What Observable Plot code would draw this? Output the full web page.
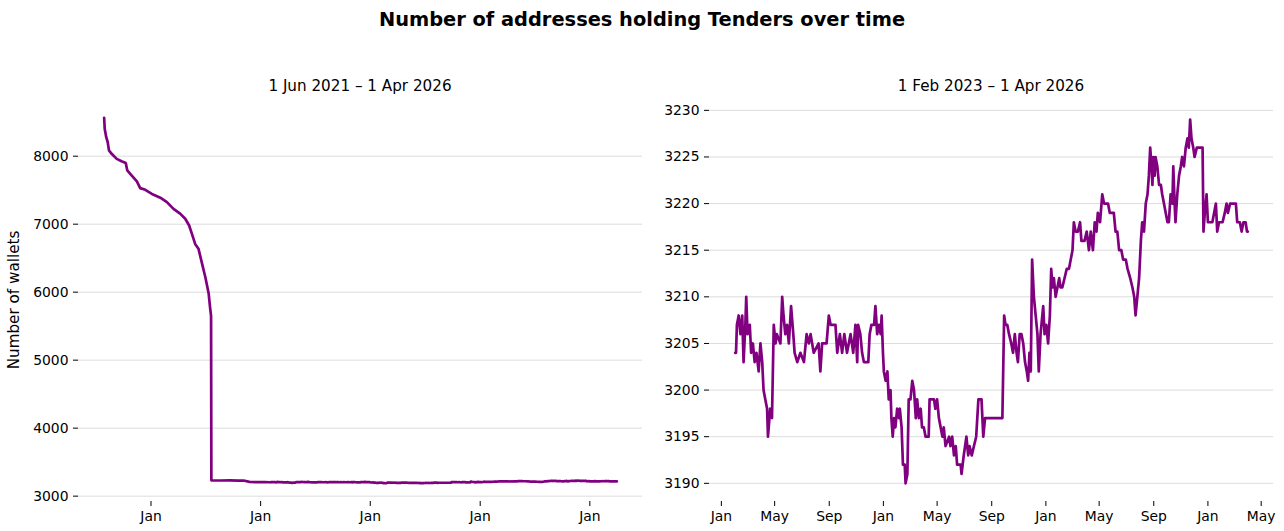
<!DOCTYPE html>
<html><head><meta charset="utf-8">
<script src="https://cdn.jsdelivr.net/npm/d3@7"></script>
<script src="https://cdn.jsdelivr.net/npm/@observablehq/plot@0.6"></script>
<style>
body{margin:0;background:#fff;font-family:"DejaVu Sans",sans-serif;}
#wrap{position:relative;width:1284px;height:531px;overflow:hidden;background:#fff;}
.t{position:absolute;white-space:nowrap;color:#000;line-height:1;}
#left,#right{position:absolute;top:60px;}
#left{left:0}
#right{left:650px}
</style></head><body>
<div id="wrap">
  <div id="left"></div>
  <div id="right"></div>
  <div class="t" id="title" style="left:0;width:1284px;text-align:center;top:10px;font-weight:bold;font-size:19.4px;"></div>
  <div class="t" id="subL" style="left:78px;width:564px;text-align:center;top:79px;font-size:15.2px;"></div>
  <div class="t" id="subR" style="left:709px;width:564px;text-align:center;top:79px;font-size:15.2px;"></div>
  <div class="t" id="ylab" style="left:15px;top:300px;font-size:15.2px;transform:translate(-50%,-50%) rotate(-90deg);"></div>
</div>
<script>
const chartTitle = "Number of addresses holding Tenders over time";
const panelTitles = ["1 Jun 2021 \u2013 1 Apr 2026", "1 Feb 2023 \u2013 1 Apr 2026"];
const yLabel = "Number of wallets";
const rightStart = "2023-02-01";
const leftYTicks = [3000, 4000, 5000, 6000, 7000, 8000];
const rightYTicks = [3190, 3195, 3200, 3205, 3210, 3215, 3220, 3225, 3230];

const dates = [
"2021-07-29","2021-07-31","2021-08-05","2021-08-10","2021-08-14","2021-08-23","2021-09-09","2021-09-25","2021-10-09","2021-10-14",
"2021-10-29","2021-11-15","2021-11-26","2021-12-13","2022-01-04","2022-02-01","2022-02-23","2022-03-17","2022-04-08","2022-04-25",
"2022-05-08","2022-05-17","2022-05-28","2022-06-08","2022-06-20","2022-07-01","2022-07-12","2022-07-17","2022-07-20","2022-07-21",
"2022-08-20","2022-09-20","2022-10-20","2022-11-05","2022-11-25","2022-12-20","2023-01-15",
"2023-02-01","2023-02-03","2023-02-05","2023-02-09","2023-02-13","2023-02-17","2023-02-20","2023-02-24","2023-02-26","2023-03-01",
"2023-03-06","2023-03-09","2023-03-13","2023-03-17","2023-03-21","2023-03-26","2023-03-30","2023-04-03","2023-04-06","2023-04-10",
"2023-04-14","2023-04-16","2023-04-21","2023-04-25","2023-04-29","2023-05-03","2023-05-06","2023-05-14","2023-05-18","2023-05-21",
"2023-05-25","2023-05-29","2023-06-02","2023-06-07","2023-06-12","2023-06-15","2023-06-21","2023-06-28","2023-07-06","2023-07-12",
"2023-07-17","2023-07-21","2023-07-28","2023-08-08","2023-08-12","2023-08-16","2023-08-26","2023-08-31","2023-09-04","2023-09-15",
"2023-09-19","2023-09-25","2023-09-30","2023-10-05","2023-10-11","2023-10-19","2023-10-25","2023-10-30","2023-11-03","2023-11-05",
"2023-11-10","2023-11-14","2023-11-18","2023-11-28","2023-12-01","2023-12-05","2023-12-11","2023-12-14","2023-12-18","2023-12-22",
"2023-12-26","2023-12-28","2023-12-31","2024-01-02","2024-01-06","2024-01-10","2024-01-13","2024-01-17","2024-01-19","2024-01-22",
"2024-01-25","2024-01-28","2024-02-01","2024-02-05","2024-02-07","2024-02-11","2024-02-14","2024-02-18","2024-02-20","2024-02-24",
"2024-02-27","2024-03-02","2024-03-06","2024-03-10","2024-03-14","2024-03-17","2024-03-21","2024-03-25","2024-03-28","2024-04-01",
"2024-04-05","2024-04-12","2024-04-14","2024-04-24","2024-04-27","2024-05-01","2024-05-05","2024-05-09","2024-05-13","2024-05-16",
"2024-05-20","2024-05-28","2024-05-31","2024-06-04","2024-06-08","2024-06-12","2024-06-15","2024-06-23","2024-06-25","2024-06-30",
"2024-07-06","2024-07-10","2024-07-13","2024-07-18","2024-07-23","2024-07-28","2024-08-02","2024-08-09","2024-08-13","2024-08-17",
"2024-08-22","2024-09-25","2024-09-29","2024-10-02","2024-10-06","2024-10-10","2024-10-15","2024-10-19","2024-10-23","2024-10-27",
"2024-10-30","2024-11-03","2024-11-07","2024-11-11","2024-11-15","2024-11-19","2024-11-22","2024-11-25","2024-11-28","2024-12-01",
"2024-12-05","2024-12-09","2024-12-13","2024-12-16","2024-12-20","2024-12-26","2024-12-29","2025-01-02","2025-01-06","2025-01-10",
"2025-01-13","2025-01-16","2025-01-19","2025-01-23","2025-01-27","2025-01-31","2025-02-03","2025-02-07","2025-02-12","2025-02-17",
"2025-02-22","2025-02-26","2025-03-02","2025-03-05","2025-03-09","2025-03-14","2025-03-19","2025-03-22","2025-03-29","2025-04-03",
"2025-04-08","2025-04-12","2025-04-17","2025-04-21","2025-04-25","2025-04-28","2025-05-03","2025-05-08","2025-05-12","2025-05-16",
"2025-05-21","2025-05-25","2025-05-31","2025-06-03","2025-06-07","2025-06-11","2025-06-15","2025-06-20","2025-06-24","2025-06-30",
"2025-07-04","2025-07-10","2025-07-15","2025-07-19","2025-07-22","2025-07-26","2025-07-30","2025-08-03","2025-08-06","2025-08-10",
"2025-08-14","2025-08-18","2025-08-21","2025-08-24","2025-08-27","2025-08-29","2025-08-31","2025-09-03","2025-09-05","2025-09-09",
"2025-09-13","2025-09-17","2025-09-20","2025-09-24","2025-09-28","2025-10-02","2025-10-05","2025-10-09","2025-10-13","2025-10-15",
"2025-10-18","2025-10-20","2025-10-24","2025-10-28","2025-11-01","2025-11-04","2025-11-08","2025-11-12","2025-11-16","2025-11-19",
"2025-11-22","2025-11-25","2025-11-29","2025-12-02","2025-12-07","2025-12-20","2025-12-22","2025-12-25","2025-12-29","2026-01-01",
"2026-01-06","2026-01-11","2026-01-19","2026-01-22","2026-01-26","2026-02-03","2026-02-08","2026-02-12","2026-02-15","2026-02-20",
"2026-03-05","2026-03-08","2026-03-14","2026-03-18","2026-03-22","2026-03-27","2026-03-30","2026-04-01"
];
const wallets = [
8565,8400,8280,8205,8085,8035,7960,7925,7900,7790,
7715,7630,7530,7505,7445,7390,7325,7225,7155,7080,
6980,6860,6710,6640,6420,6220,5980,5760,5650,3232,
3230,3231,3229,3230,3210,3206,3205,
3204,3204,3207,3208,3206,3208,3203,3207,3210,3206,
3207,3204,3205,3203,3204,3202,3205,3203,3200,3199,
3198,3195,3198,3197,3207,3205,3206,3205,3210,3208,
3206,3207,3205,3209,3206,3204,3203,3204,3203,3206,
3205,3206,3204,3205,3202,3205,3205,3208,3207,3207,
3204,3206,3204,3206,3204,3206,3204,3207,3203,3207,
3206,3204,3203,3203,3206,3207,3207,3209,3206,3207,
3206,3208,3204,3202,3201,3202,3199,3200,3197,3195,
3197,3196,3198,3197,3198,3196,3192,3192,3190,3191,
3199,3199,3201,3200,3197,3199,3197,3198,3196,3196,
3195,3195,3199,3199,3198,3199,3197,3196,3195,3196,
3194,3195,3194,3195,3193,3194,3192,3192,3191,3193,
3195,3193,3194,3193,3194,3195,3199,3199,3195,3197,
3197,3197,3208,3207,3207,3206,3205,3204,3206,3204,
3203,3206,3206,3205,3203,3202,3201,3204,3202,3214,
3210,3208,3206,3202,3206,3209,3206,3207,3205,3208,
3213,3211,3212,3210,3211,3212,3211,3211,3212,3213,
3213,3214,3215,3218,3217,3217,3218,3216,3216,3217,
3215,3217,3215,3218,3217,3219,3218,3221,3220,3220,
3220,3219,3219,3219,3217,3217,3215,3215,3214,3214,
3213,3212,3211,3210,3208,3210,3212,3216,3218,3217,
3220,3221,3223,3226,3224,3222,3225,3223,3225,3224,
3222,3222,3221,3220,3219,3218,3218,3221,3220,3224,
3220,3218,3221,3223,3224,3225,3224,3226,3227,3226,
3229,3227,3226,3225,3226,3226,3217,3219,3221,3218,
3218,3218,3220,3217,3218,3218,3219,3220,3219,3220,
3220,3218,3218,3217,3218,3218,3217,3217
];

document.getElementById("title").textContent = chartTitle;
document.getElementById("subL").textContent = panelTitles[0];
document.getElementById("subR").textContent = panelTitles[1];
document.getElementById("ylab").textContent = yLabel;

const series = dates.map((d, i) => ({date: new Date(d + "T00:00:00Z"), wallets: wallets[i]}));
const recent = series.filter(d => d.date >= new Date(rightStart + "T00:00:00Z"));

function pad(ext, f = 0.05) { const s = ext[1] - ext[0]; return [ext[0] - s * f, ext[1] + s * f]; }
function padDates(data) {
  const e = d3.extent(data, d => +d.date);
  return pad(e).map(v => new Date(v));
}
const purple = "#800080";
const baseStyle = {fontFamily: "DejaVu Sans, sans-serif", fontSize: "13.9px", color: "#000", background: "transparent", overflow: "visible"};

// Left panel
const lx = padDates(series);
const ly = pad(d3.extent(series, d => d.wallets));
const lxTicks = d3.utcYear.range(lx[0], lx[1]);
const left = Plot.plot({
  width: 650, height: 471,
  marginLeft: 78, marginRight: 8, marginTop: 39, marginBottom: 30,
  style: baseStyle,
  x: {type: "utc", domain: lx},
  y: {domain: ly},
  marks: [
    Plot.gridY(leftYTicks, {stroke: "#dcdcdc", strokeOpacity: 1, strokeWidth: 1}),
    Plot.axisY(leftYTicks, {tickSize: 5, tickPadding: 5, label: null, tickFormat: d => String(d)}),
    Plot.axisX(lxTicks, {tickSize: 5, tickPadding: 5, tickFormat: d3.utcFormat("%b"), label: null}),
    Plot.lineY(series, {x: "date", y: "wallets", stroke: purple, strokeWidth: 2.7, strokeLinejoin: "round"})
  ]
});
document.getElementById("left").appendChild(left);

// Right panel
const rx = padDates(recent);
const ry = pad(d3.extent(recent, d => d.wallets));
const rxTicks = d3.utcMonth.every(4).range(rx[0], rx[1]);
const right = Plot.plot({
  width: 634, height: 471,
  marginLeft: 59, marginRight: 11, marginTop: 41, marginBottom: 30,
  style: baseStyle,
  x: {type: "utc", domain: rx},
  y: {domain: ry},
  marks: [
    Plot.gridY(rightYTicks, {stroke: "#dcdcdc", strokeOpacity: 1, strokeWidth: 1}),
    Plot.axisY(rightYTicks, {tickSize: 5, tickPadding: 5, label: null, tickFormat: d => String(d)}),
    Plot.axisX(rxTicks, {tickSize: 5, tickPadding: 5, tickFormat: d3.utcFormat("%b"), label: null}),
    Plot.lineY(recent, {x: "date", y: "wallets", stroke: purple, strokeWidth: 2.7, strokeLinejoin: "round"})
  ]
});
document.getElementById("right").appendChild(right);
</script>
</body></html>
